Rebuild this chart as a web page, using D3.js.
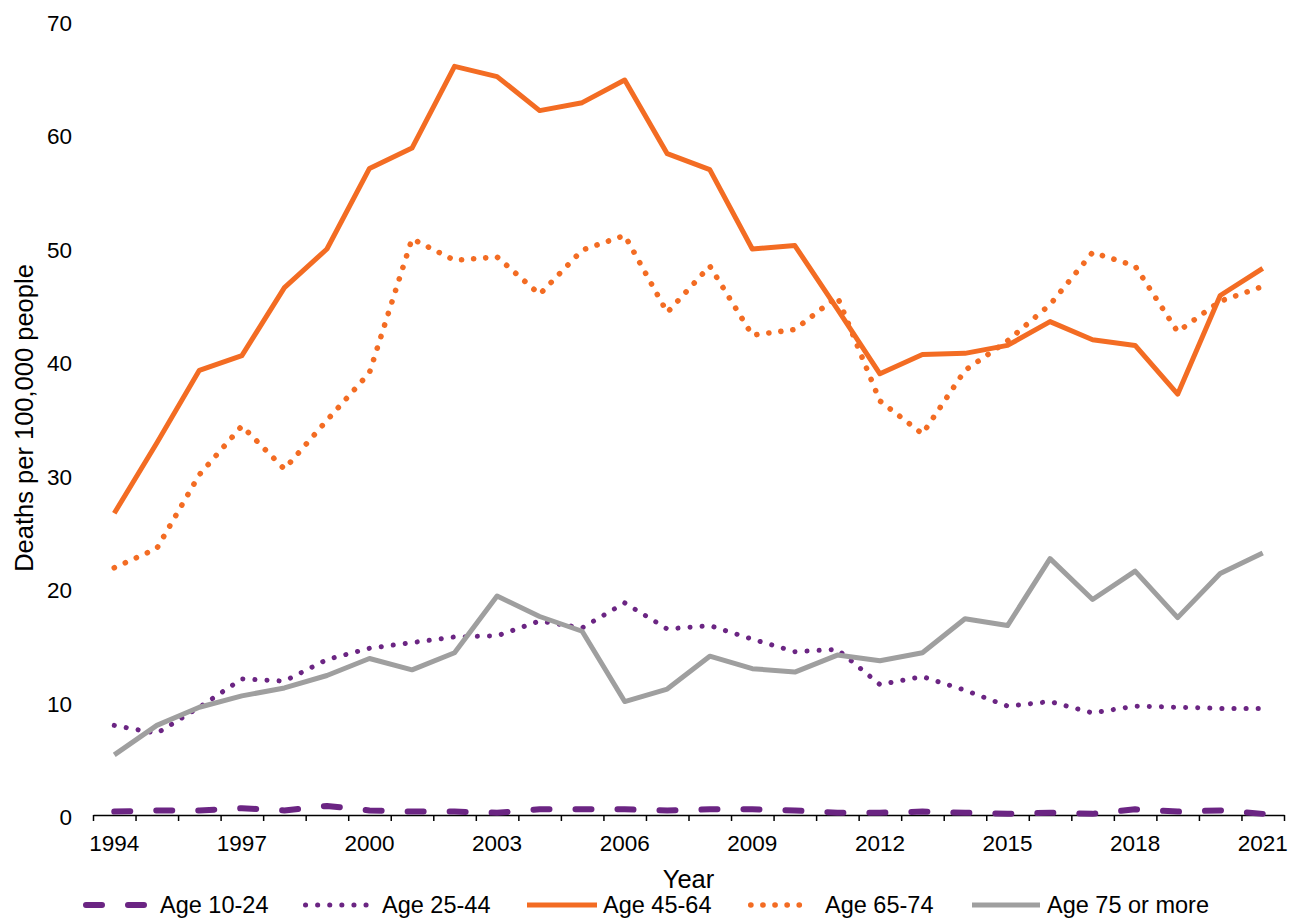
<!DOCTYPE html>
<html>
<head>
<meta charset="utf-8">
<script src="https://cdn.jsdelivr.net/npm/d3@7"></script>
<style>
  body { margin: 0; background: #fff; }
  text { font-family: "Liberation Sans", Arial, sans-serif; fill: #000; }
</style>
</head>
<body>
<div id="chart"></div>
<script>
// years on the x axis
var years = d3.range(1994, 2022);

// deaths per 100,000 people
var age10_24 = [0.3,0.4,0.4,0.6,0.4,0.8,0.4,0.3,0.3,0.2,0.5,0.5,0.5,0.4,0.5,0.5,0.4,0.2,0.2,0.3,0.2,0.1,0.2,0.1,0.5,0.3,0.4,0.1];
var age25_44 = [7.9,7.2,9.5,12.0,11.8,13.7,14.7,15.2,15.7,15.8,17.1,16.5,18.7,16.4,16.7,15.5,14.4,14.6,11.5,12.2,11.0,9.6,10.0,9.0,9.6,9.5,9.4,9.4];
var age45_64 = [26.6,32.8,39.2,40.5,46.5,49.9,57.0,58.8,66.0,65.1,62.1,62.8,64.8,58.3,56.9,49.9,50.2,44.6,38.9,40.6,40.7,41.4,43.5,41.9,41.4,37.1,45.8,48.2];
var age65_74 = [21.8,23.5,30.0,34.3,30.5,34.8,39.0,50.8,48.9,49.2,45.9,49.8,51.1,44.3,48.4,42.3,42.8,45.7,36.5,33.6,39.2,41.8,45.0,49.6,48.4,42.6,45.3,46.6];
var age75plus = [5.3,7.9,9.5,10.5,11.2,12.3,13.8,12.8,14.3,19.3,17.5,16.2,10.0,11.1,14.0,12.9,12.6,14.1,13.6,14.3,17.3,16.7,22.6,19.0,21.5,17.4,21.3,23.1];

var seriesNames = ["Age 10-24", "Age 25-44", "Age 45-64", "Age 65-74", "Age 75 or more"];
var yTicks = [0, 10, 20, 30, 40, 50, 60, 70];
var xLabelYears = [1994, 1997, 2000, 2003, 2006, 2009, 2012, 2015, 2018, 2021];

var orange = "#f36c23", purple = "#6b2583", grey = "#9f9f9f";

// line styles for each series
var styles = [
  {color: purple, width: 6, dash: "16,26", cap: "round"},
  {color: purple, width: 5, dash: "0.1,12", cap: "round"},
  {color: orange, width: 5, dash: null, cap: "butt"},
  {color: orange, width: 5.6, dash: "0.1,12", cap: "round"},
  {color: grey, width: 5, dash: null, cap: "butt"}
];

var allSeries = [age10_24, age25_44, age45_64, age65_74, age75plus];

var width = 1304, height = 922;
var plotLeft = 93, plotRight = 1284, plotTop = 21, plotBottom = 815;

var svg = d3.select("#chart").append("svg")
    .attr("width", width)
    .attr("height", height);

var x = d3.scaleBand()
    .domain(years)
    .range([plotLeft, plotRight])
    .padding(0);

var y = d3.scaleLinear()
    .domain([0, 70])
    .range([plotBottom, plotTop]);

// tick marks sit between the categories
var xEdges = d3.scaleLinear()
    .domain([years[0] - 0.5, years[years.length - 1] + 0.5])
    .range([plotLeft, plotRight]);

svg.append("g")
    .attr("transform", "translate(0," + plotBottom + ")")
    .call(d3.axisBottom(xEdges)
        .tickValues(d3.range(years[0] - 0.5, years[years.length - 1] + 1, 1))
        .tickSize(6)
        .tickSizeOuter(0)
        .tickFormat(""))
    .call(function(g) {
        g.select(".domain").attr("stroke", "#000").attr("stroke-width", 1.5);
        g.selectAll(".tick line").attr("stroke", "#000").attr("stroke-width", 1.5);
    });

// year labels
svg.append("g")
    .attr("transform", "translate(0," + plotBottom + ")")
    .call(d3.axisBottom(x)
        .tickValues(xLabelYears)
        .tickSize(0)
        .tickPadding(0))
    .call(function(g) {
        g.select(".domain").remove();
        g.selectAll("text")
            .attr("y", 36)
            .attr("dy", 0)
            .style("font-size", "22.5px")
            .style("font-family", "'Liberation Sans', Arial, sans-serif");
    });

// y labels, no axis line
svg.append("g")
    .attr("transform", "translate(" + plotLeft + ",0)")
    .call(d3.axisLeft(y)
        .tickValues(yTicks)
        .tickSize(0)
        .tickPadding(21))
    .call(function(g) {
        g.select(".domain").remove();
        g.selectAll("text")
            .attr("dy", "0.42em")
            .style("font-size", "22.5px")
            .style("font-family", "'Liberation Sans', Arial, sans-serif");
    });

// axis titles
svg.append("text")
    .attr("x", (plotLeft + plotRight) / 2)
    .attr("y", 888)
    .attr("text-anchor", "middle")
    .style("font-size", "25.5px")
    .text("Year");

svg.append("text")
    .attr("transform", "translate(33," + ((plotTop + plotBottom) / 2) + ") rotate(-90)")
    .attr("text-anchor", "middle")
    .style("font-size", "25.5px")
    .text("Deaths per 100,000 people");

var line = d3.line()
    .x(function(d, i) { return x(years[i]) + x.bandwidth() / 2; })
    .y(function(d) { return y(d); });

allSeries.forEach(function(vals, i) {
    var s = styles[i];
    svg.append("path")
        .datum(vals)
        .attr("d", line)
        .attr("fill", "none")
        .attr("stroke", s.color)
        .attr("stroke-width", s.width)
        .attr("stroke-linejoin", "round")
        .attr("stroke-linecap", s.cap)
        .attr("stroke-dasharray", s.dash);
});

// legend
var legendX = [[83, 147, 160], [303, 370, 382], [527, 597, 603], [748, 813, 825], [972, 1040, 1047]];
var legendY = 905;
var legend = svg.append("g");
seriesNames.forEach(function(name, i) {
    var s = styles[i];
    var lx = legendX[i];
    legend.append("line")
        .attr("x1", lx[0] + (s.cap === "round" ? s.width / 2 : 0))
        .attr("x2", lx[1] - (s.cap === "round" ? s.width / 2 : 0))
        .attr("y1", legendY)
        .attr("y2", legendY)
        .attr("stroke", s.color)
        .attr("stroke-width", s.width)
        .attr("stroke-linecap", s.cap)
        .attr("stroke-dasharray", s.dash);
    legend.append("text")
        .attr("x", lx[2])
        .attr("y", legendY + 8)
        .style("font-size", "23.5px")
        .text(name);
});
</script>
</body>
</html>
